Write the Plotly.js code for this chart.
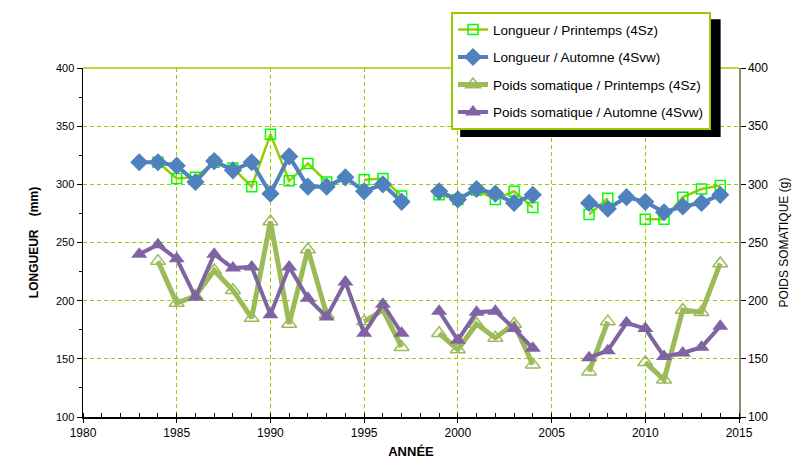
<!DOCTYPE html>
<html>
<head>
<meta charset="utf-8">
<script src="https://cdn.plot.ly/plotly-3.0.1.min.js"></script>
<style>html,body{margin:0;padding:0;background:#fff;}#chart{width:795px;height:459px;}</style>
</head>
<body>
<div id="chart"></div>
<script>
const years = [1983,1984,1985,1986,1987,1988,1989,1990,1991,1992,1993,1994,1995,1996,1997,1998,1999,2000,2001,2002,2003,2004,2005,2006,2007,2008,2009,2010,2011,2012,2013,2014];
const longueurPrintemps = [null,319,305,306,319,314,298,343,303,318,302,null,304,305,290,null,291,287,295,287,294,280,null,null,274,288,null,270,270,289,296,299];
const longueurAutomne = [319,319,316,302,320,312,319,292,324,298,298,306,294,300,285,null,294,287,296,292,284,291,null,null,284,279,289,285,276,281,284,291];
const poidsPrintemps = [null,234,198,204,226,209,185,268,180,244,188,null,182,192,160,null,172,158,180,168,180,145,null,null,139,182,null,147,132,192,190,232];
const poidsAutomne = [240,248,236,203,240,228,229,188,229,202,186,216,172,197,172,null,191,166,190,191,176,159,null,null,151,157,181,176,152,155,160,178];
const seriesNames = ["Longueur / Printemps (4Sz)","Longueur / Automne (4Svw)","Poids somatique / Printemps (4Sz)","Poids somatique / Automne (4Svw)"];

const traces = [
  {x: years, y: longueurPrintemps, name: seriesNames[0], type: 'scatter', mode: 'lines+markers', legendgroup: 'a',
   line: {color: '#99CC00', width: 2.5}, marker: {symbol: 'square-open', size: 10, color: '#00FF00', line: {width: 1.5, color: '#00FF00'}}},
  {x: years, y: longueurAutomne, name: seriesNames[1], type: 'scatter', mode: 'lines+markers', legendgroup: 'b',
   line: {color: '#4F81BD', width: 4}, marker: {symbol: 'diamond', size: 14, color: '#4F81BD'}},
  {x: years, y: poidsPrintemps, name: seriesNames[2], type: 'scatter', mode: 'lines+markers', yaxis: 'y2', legendgroup: 'c',
   line: {color: '#9BBB59', width: 5}, marker: {symbol: 'triangle-up-open', size: 13, color: '#9BBB59', line: {width: 1.5, color: '#9BBB59'}}},
  {x: years, y: poidsAutomne, name: seriesNames[3], type: 'scatter', mode: 'lines+markers', yaxis: 'y2', legendgroup: 'd',
   line: {color: '#8064A2', width: 4}, marker: {symbol: 'triangle-up', size: 14, color: '#8064A2'}}
];

const gridColor = '#99CC00';
const layout = {
  width: 795, height: 459,
  margin: {l: 83, r: 56, t: 68, b: 42},
  paper_bgcolor: '#ffffff', plot_bgcolor: '#ffffff',
  font: {family: 'Liberation Sans, Arial, sans-serif', size: 11, color: '#000'},
  showlegend: true,
  legend: {
    x: 0.561, y: 1.16, xanchor: 'left', yanchor: 'top',
    bgcolor: '#ffffff', bordercolor: '#99CC00', borderwidth: 2,
    font: {family: 'Liberation Sans, Arial, sans-serif', size: 13.5, color: '#000'},
    traceorder: 'grouped', tracegroupgap: 7
  },
  xaxis: {
    range: [1980, 2015], dtick: 5, tick0: 1980,
    showgrid: true, gridcolor: gridColor, griddash: '4px,3px', gridwidth: 1,
    showline: true, linecolor: '#000', linewidth: 2,
    ticks: 'outside', ticklen: 4, tickcolor: '#000',
    minor: {dtick: 1, ticks: 'inside', ticklen: 4, tickcolor: '#000', showgrid: false},
    tickfont: {family: 'Liberation Sans Narrow, Liberation Sans, Arial', size: 12},
    zeroline: false,
    title: {text: '<b>ANNÉE</b>', font: {family: 'Liberation Sans Narrow, Liberation Sans, Arial', size: 13}, standoff: 8}
  },
  yaxis: {
    range: [100, 400], dtick: 50,
    showgrid: true, gridcolor: gridColor, griddash: '4px,3px', gridwidth: 1,
    showline: true, linecolor: '#000', linewidth: 1.5,
    ticks: 'outside', ticklen: 5, tickcolor: '#000',
    minor: {dtick: 25, ticks: 'outside', ticklen: 3, tickcolor: '#000', showgrid: false},
    tickfont: {size: 11},
    zeroline: false,
    title: {text: '<b>LONGUEUR    (mm)</b>', font: {size: 12}, standoff: 14}
  },
  yaxis2: {
    range: [100, 400], dtick: 50, overlaying: 'y', side: 'right',
    showgrid: false, showline: true, linecolor: '#8C8C6C', linewidth: 1.5,
    ticks: 'outside', ticklen: 5, tickcolor: '#000',
    tickfont: {size: 12},
    zeroline: false,
    title: {text: 'POIDS SOMATIQUE (g)', font: {size: 12}, standoff: 12}
  },
  shapes: [
    {type: 'line', xref: 'paper', yref: 'paper', x0: 0, x1: 1, y0: 1, y1: 1, line: {color: gridColor, width: 1.5}, layer: 'below'},
    {type: 'rect', xref: 'paper', yref: 'paper', x0: 0.575, x1: 0.972, y0: 0.802, y1: 1.14, fillcolor: '#000', line: {width: 0}, layer: 'above'}
  ]
};

Plotly.newPlot('chart', traces, layout, {displayModeBar: false, staticPlot: true});
</script>
</body>
</html>
